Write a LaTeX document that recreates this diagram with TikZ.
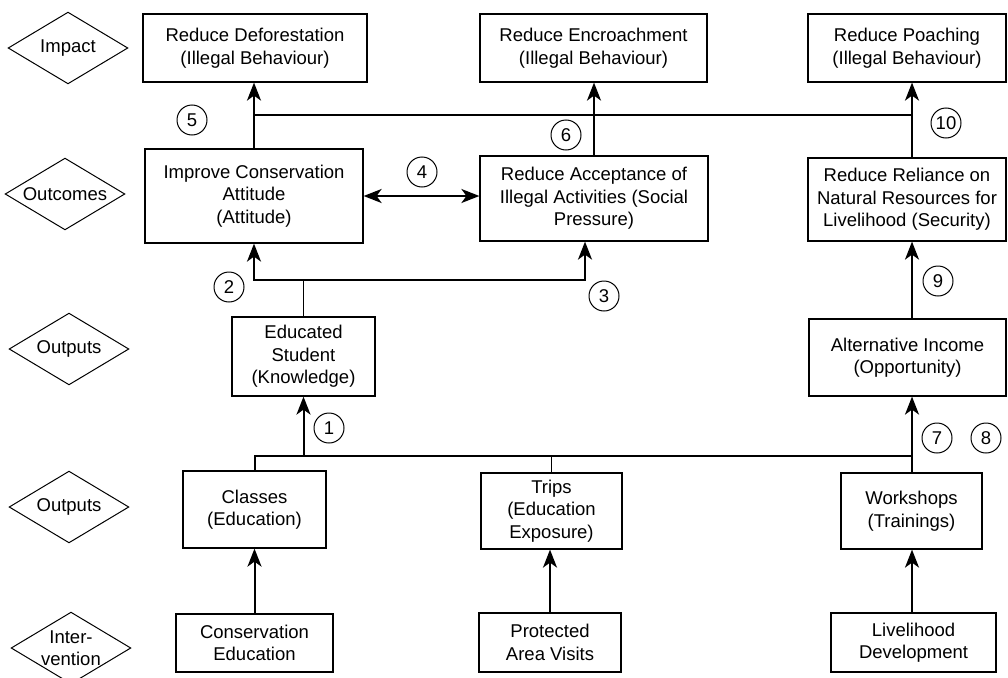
\documentclass[tikz,border=0pt]{standalone}
\usepackage{fontspec}
\setmainfont{Liberation Sans}
\usetikzlibrary{arrows.meta}

\begin{document}
\begin{tikzpicture}[%
            x=1pt, y=-1pt,
            font=\fontsize{18.5}{22.5}\selectfont,
            mybox/.style={draw, line width=1.2pt, align=center, inner sep=2pt},
            mylevel/.style={shape=rectangle, minimum width=119pt, minimum height=71pt, inner sep=0pt, align=center},
            mynum/.style={shape=circle, draw, line width=1pt, minimum size=30pt, inner sep=0pt},
            myarrow/.style={-{Stealth[length=18pt, width=14pt, inset=5pt]}, line width=2pt},
            mybar/.style={line width=1.4pt}
        ]
        \useasboundingbox (0,0) rectangle (1008,677);

        % levels
        \node (lvimpact) at (68,48) [mylevel] {Impact};
        \node (lvoutcome) at (65,194) [mylevel] {Outcomes};
        \node (lvoutput) at (69,349) [mylevel] {Outputs};
        \node (lvoutput2) at (69,507) [mylevel] {Outputs};
        \node (lvinterv) at (71,648) [mylevel] {Inter-\\vention};
        \foreach \lv in {lvimpact,lvoutcome,lvoutput,lvoutput2,lvinterv}
            \draw [line width=1pt] (\lv.west) -- (\lv.north) -- (\lv.east) -- (\lv.south) -- cycle;

        % boxes
        \node (defo) at (255,48) [mybox, minimum width=224pt, minimum height=68pt] {Reduce Deforestation\\(Illegal Behaviour)};
        \node (encr) at (593.5,48) [mybox, minimum width=227pt, minimum height=68pt] {Reduce Encroachment\\(Illegal Behaviour)};
        \node (poach) at (907,48) [mybox, minimum width=198pt, minimum height=68pt] {Reduce Poaching\\(Illegal Behaviour)};
        \node (attit) at (254,196) [mybox, minimum width=218pt, minimum height=94pt] {Improve Conservation\\Attitude\\(Attitude)};
        \node (accept) at (594,198.5) [mybox, minimum width=228pt, minimum height=85pt] {Reduce Acceptance of\\Illegal Activities (Social\\Pressure)};
        \node (relian) at (907,199.5) [mybox, minimum width=198pt, minimum height=83pt] {Reduce Reliance on\\Natural Resources for\\Livelihood (Security)};
        \node (student) at (303.5,356.5) [mybox, minimum width=143pt, minimum height=79pt] {Educated\\Student\\(Knowledge)};
        \node (altinc) at (907.5,357.5) [mybox, minimum width=197pt, minimum height=77pt] {Alternative Income\\(Opportunity)};
        \node (classes) at (254.5,509.5) [mybox, minimum width=143pt, minimum height=77pt] {Classes\\(Education)};
        \node (trips) at (551.5,511) [mybox, minimum width=141pt, minimum height=76pt] {Trips\\(Education\\Exposure)};
        \node (works) at (911.5,511) [mybox, minimum width=141pt, minimum height=76pt] {Workshops\\(Trainings)};
        \node (consed) at (254.5,643) [mybox, minimum width=157pt, minimum height=58pt] {Conservation\\Education};
        \node (pavisit) at (550,642.5) [mybox, minimum width=142pt, minimum height=59pt] {Protected\\Area Visits};
        \node (livdev) at (913.5,642.5) [mybox, minimum width=165pt, minimum height=59pt] {Livelihood\\Development};

        % bars
        \coordinate (tbar) at (0,115);
        \coordinate (acc3) at (585,280);
        \coordinate (bbar) at (0,456);
        \coordinate (rcol) at (912,0);

        % connectors
        \draw [myarrow] (consed.north) -- (consed.north |- classes.south);
        \draw [myarrow] (pavisit.north) -- (pavisit.north |- trips.south);
        \draw [myarrow] (rcol |- livdev.north) -- (rcol |- works.south);
        \draw [mybar, line width=2pt] (classes.north) -- (classes.north |- bbar) -- (rcol |- bbar);
        \draw [line width=1.2pt] (trips.north) -- (trips.north |- bbar);
        \draw [myarrow] (student.south |- bbar) -- (student.south);
        \draw [myarrow] (rcol |- works.north) -- (rcol |- altinc.south);
        \draw [myarrow] (rcol |- altinc.north) -- (rcol |- relian.south);
        \draw [mybar] (student.north) -- (student.north |- acc3);
        \draw [myarrow] (student.north |- acc3) -| (attit.south);
        \draw [myarrow] (student.north |- acc3) -| (acc3 |- accept.south);
        \draw [myarrow, {Stealth[length=18pt, width=14pt, inset=5pt]}-{Stealth[length=18pt, width=14pt, inset=5pt]}]
              (attit.east) -- (attit.east -| accept.west);
        \draw [mybar] (attit.north |- tbar) -- (rcol |- tbar);
        \draw [myarrow] (attit.north) -- (attit.north |- defo.south);
        \draw [myarrow] (accept.north) -- (accept.north |- encr.south);
        \draw [myarrow] (rcol |- relian.north) -- (rcol |- poach.south);

        % numbers
        \node (n1) at (329,428) [mynum] {1};
        \node (n2) at (229,287) [mynum] {2};
        \node (n3) at (604,296) [mynum] {3};
        \node (n4) at (422,172) [mynum] {4};
        \node (n5) at (192,120) [mynum] {5};
        \node (n6) at (566,135) [mynum] {6};
        \node (n7) at (937,438) [mynum] {7};
        \node (n8) at (986,438) [mynum] {8};
        \node (n9) at (938,281) [mynum] {9};
        \node (n10) at (946,123) [mynum] {10};
    \end{tikzpicture}
\end{document}
